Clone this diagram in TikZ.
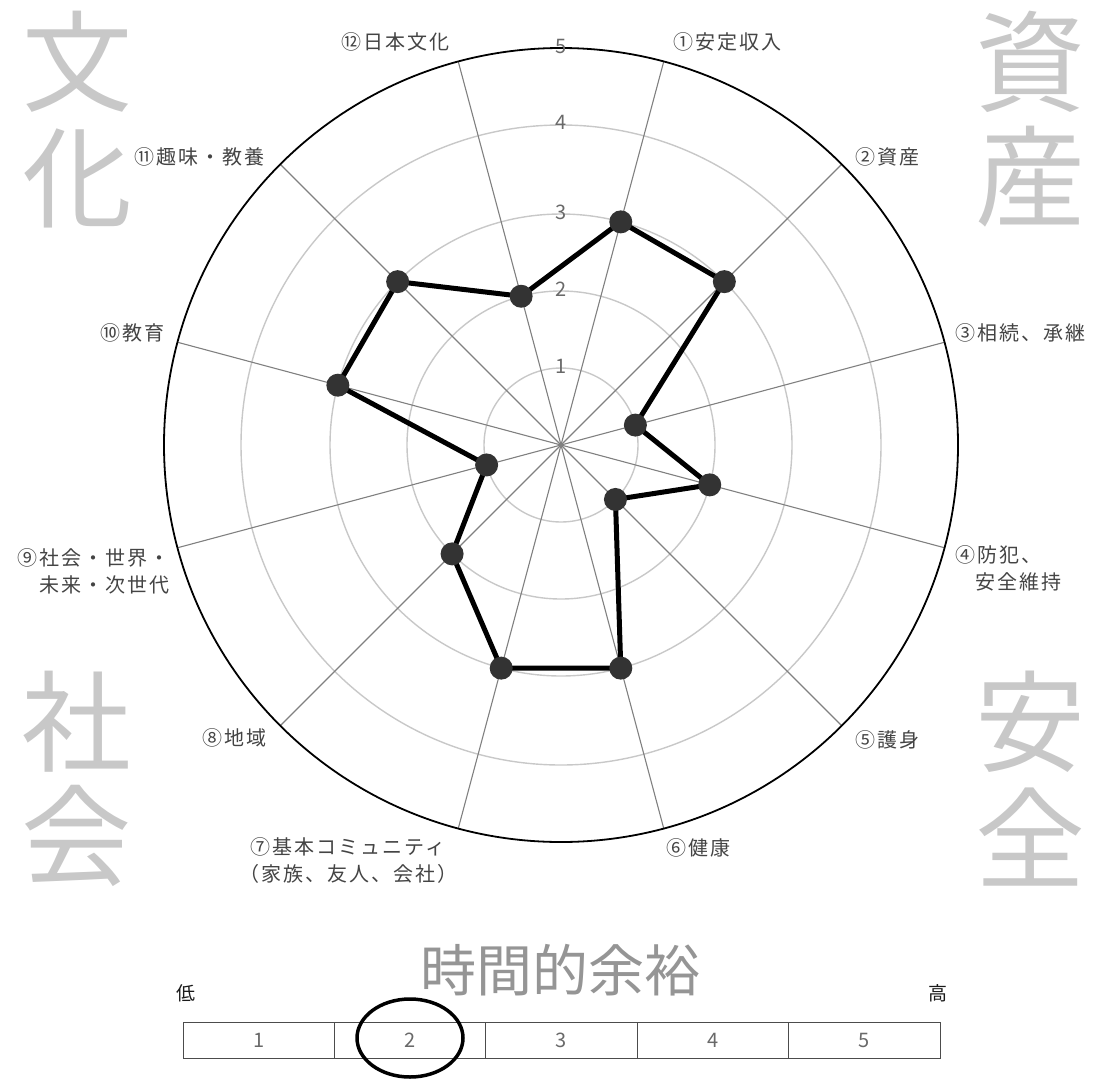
\documentclass[tikz,border=0pt]{standalone}
\usepackage{fontspec}
\setmainfont{Noto Sans CJK JP}
\newfontfamily\jplabel[LetterSpace=10]{Noto Sans CJK JP}
\usetikzlibrary{positioning,shapes.geometric}
\definecolor{labelgray}{HTML}{444444}
\definecolor{bigtext}{HTML}{C8C8C8}
\definecolor{titlegray}{HTML}{959595}
\definecolor{spokegray}{HTML}{808080}
\definecolor{ringgray}{HTML}{C8C8C8}
\definecolor{dotgray}{HTML}{333333}
\begin{document}
\begin{tikzpicture}[x=1pt,y=1pt,
	axis/.style={font=\jplabel\fontsize{20}{27}\selectfont,text=labelgray,inner sep=0pt},
	corner/.style={font=\fontsize{110}{110}\selectfont,text=bigtext,inner sep=0pt},
	tick/.style={font=\fontsize{20}{20}\selectfont,text=labelgray!80,inner sep=0pt},
	dot/.style={circle,fill=dotgray,minimum size=23pt,inner sep=0pt},
	cell/.style={draw=black!70,line width=1pt,outer sep=0pt,minimum width=151.4pt,minimum height=36pt,inner sep=0pt,font=\fontsize{20}{20}\selectfont,text=labelgray!80}]
	\useasboundingbox (0,-1079) rectangle (1097,0);
	\coordinate (o) at (561,-445);
	% grid
	\foreach \r in {77,154,231,320}
		\draw[ringgray,line width=1.4pt] (o) circle (\r);
	\foreach \a in {15,45,...,345}
		\draw[spokegray,line width=1.1pt] (o) -- ++(\a:397);
	\draw[black,line width=1.8pt] (o) circle (397);
	\node[tick] (t1) at (561,-366) {1};
	\node[tick] (t2) at (561,-289) {2};
	\node[tick] (t3) at (561,-212) {3};
	\node[tick] (t4) at (561,-122) {4};
	\node[tick] (t5) at (561,-46) {5};
	% data
	\foreach \i/\a/\r in {1/75/231,2/45/231,3/15/77,4/-15/154,5/-45/77,6/-75/231,7/-105/231,8/-135/154,9/-165/77,10/165/231,11/135/231,12/105/154}
		\path (o) ++(\a:\r) coordinate (p\i);
	\draw[line width=5pt,line join=round] (p1)--(p2)--(p3)--(p4)--(p5)--(p6)--(p7)--(p8)--(p9)--(p10)--(p11)--(p12)--cycle;
	\foreach \i in {1,...,12}
		\node[dot] (d\i) at (p\i) {};
	% axis labels
	\node[axis] (l1) at (727,-42) {①安定収入};
	\node[axis] (l2) at (887,-157) {②資産};
	\node[axis,anchor=west] (l3) at (955,-333) {③相続、承継};
	\node[axis,anchor=west,align=left] (l4) at (955,-568) {④防犯、\\\phantom{④}安全維持};
	\node[axis] (l5) at (887,-740) {⑤護身};
	\node[axis] (l6) at (698,-848) {⑥健康};
	\node[axis,align=center] (l7) at (348,-860) {⑦基本コミュニティ\\（家族、友人、会社）};
	\node[axis] (l8) at (234,-738) {⑧地域};
	\node[axis,anchor=east,align=right] (l9) at (170,-571) {⑨社会・世界・\\未来・次世代};
	\node[axis] (l10) at (132,-333) {⑩教育};
	\node[axis] (l11) at (199,-157) {⑪趣味・教養};
	\node[axis] (l12) at (395,-42) {⑫日本文化};
	% corners
	\node[corner] (c1) at (77,-62) {文};
	\node[corner] (c2) at (77,-178) {化};
	\node[corner] (c3) at (1030,-62) {資};
	\node[corner] (c4) at (1030,-177) {産};
	\node[corner] (c5) at (76,-722) {社};
	\node[corner] (c6) at (76,-836) {会};
	\node[corner] (c7) at (1030,-722) {安};
	\node[corner] (c8) at (1030,-837) {全};
	% time scale
	\node[font=\fontsize{56}{56}\selectfont,text=titlegray,inner sep=0pt] (title) at (560,-970) {時間的余裕};
	\node[font=\fontsize{19}{19}\selectfont,text=black!90,inner sep=0pt] (low) at (186,-993) {低};
	\node[font=\fontsize{19}{19}\selectfont,text=black!90,inner sep=0pt] (high) at (938,-993) {高};
	\node[cell,anchor=north west] (s1) at (183,-1022) {1};
	\node[cell,right=0pt of s1] (s2) {2};
	\node[cell,right=0pt of s2] (s3) {3};
	\node[cell,right=0pt of s3] (s4) {4};
	\node[cell,right=0pt of s4] (s5) {5};
	\node[draw,ellipse,line width=3.5pt,minimum width=106pt,minimum height=78pt,inner sep=0pt] (pick) at (410,-1038) {};
\end{tikzpicture}
\end{document}
